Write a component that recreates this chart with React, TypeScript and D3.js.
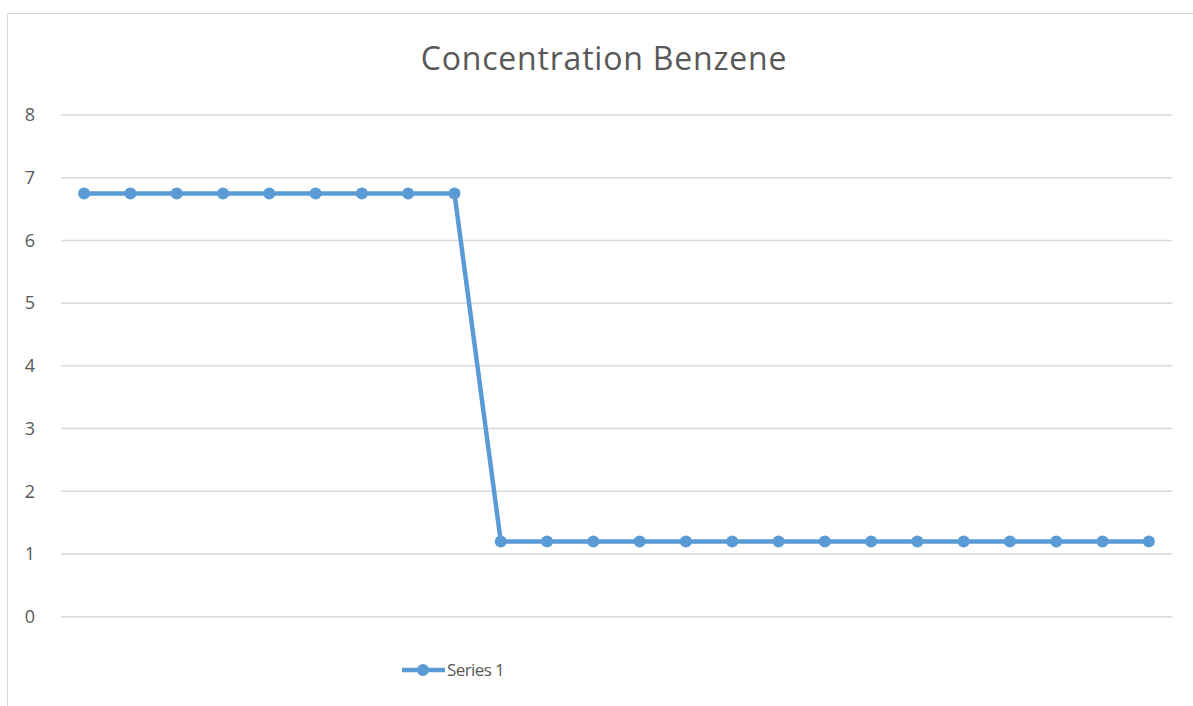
import React from "react";
import * as d3 from "d3";

// chart data
const categories = d3.range(1, 25).map(String);
const series1 = [
  6.75, 6.75, 6.75, 6.75, 6.75, 6.75, 6.75, 6.75, 6.75,
  1.2, 1.2, 1.2, 1.2, 1.2, 1.2, 1.2, 1.2, 1.2, 1.2, 1.2, 1.2, 1.2, 1.2, 1.2,
];
const yTicks = [0, 1, 2, 3, 4, 5, 6, 7, 8];
const title = "Concentration Benzene";
const seriesName = "Series 1";

const W = 1193;
const H = 706;
const font = "Open Sans, sans-serif";
const textColor = "#595959";
const blue = "#5B9BD5";

const App = () => {
  const margin = { top: 115, right: 21, bottom: 89, left: 61 };
  const x = d3
    .scaleBand()
    .domain(categories)
    .range([margin.left, W - margin.right]);
  const y = d3
    .scaleLinear()
    .domain([0, 8])
    .range([H - margin.bottom - 0.3, margin.top]);

  const line = d3
    .line<number>()
    .x((d, i) => x(categories[i])! + x.bandwidth() / 2)
    .y(d => y(d));

  return (
    <svg
      width={W}
      height={H}
      style={{ position: "absolute", left: 0, top: 0, background: "#fff" }}
    >
      <rect x={7.5} y={13.5} width={1200} height={720} fill="#fff" stroke="#d9d9d9" />
      <text
        x={604}
        y={70}
        textAnchor="middle"
        fontFamily={font}
        fontSize={32}
        letterSpacing={0.8}
        fill={textColor}
      >
        {title}
      </text>
      {yTicks.map(t => (
        <g key={t}>
          <line
            x1={margin.left}
            x2={W - margin.right}
            y1={y(t)}
            y2={y(t)}
            stroke="#d9d9d9"
            strokeWidth={1.5}
          />
          <text
            x={30}
            y={y(t)}
            dy="0.35em"
            textAnchor="middle"
            fontFamily={font}
            fontSize={18}
            fill={textColor}
          >
            {t}
          </text>
        </g>
      ))}
      <path d={line(series1)!} fill="none" stroke={blue} strokeWidth={4.5} strokeLinejoin="round" />
      {series1.map((v, i) => (
        <circle
          key={i}
          cx={x(categories[i])! + x.bandwidth() / 2}
          cy={y(v)}
          r={6}
          fill={blue}
        />
      ))}
      <g>
        <line x1={402} x2={445} y1={670} y2={670} stroke={blue} strokeWidth={4.5} />
        <circle cx={423} cy={670} r={6} fill={blue} />
        <text
          x={447}
          y={670}
          dy="0.35em"
          fontFamily={font}
          fontSize={17}
          fill={textColor}
          letterSpacing={-0.6}
        >
          {seriesName}
        </text>
      </g>
    </svg>
  );
};

export default App;
